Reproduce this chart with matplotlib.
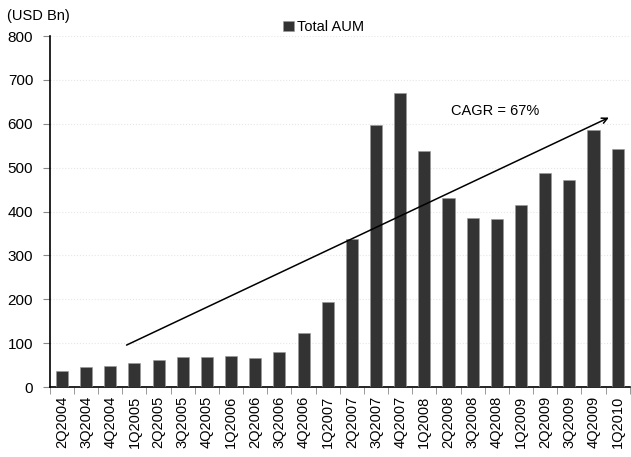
import matplotlib
matplotlib.use("Agg")
import matplotlib.pyplot as plt
import numpy as np

plt.rcParams['font.family'] = ['Liberation Sans', 'DejaVu Sans']

quarters = ["2Q2004", "3Q2004", "4Q2004", "1Q2005", "2Q2005", "3Q2005", "4Q2005",
            "1Q2006", "2Q2006", "3Q2006", "4Q2006", "1Q2007", "2Q2007", "3Q2007",
            "4Q2007", "1Q2008", "2Q2008", "3Q2008", "4Q2008", "1Q2009", "2Q2009",
            "3Q2009", "4Q2009", "1Q2010"]
total_aum = [37, 45, 47, 55, 62, 68, 68, 71, 67, 81, 123, 194, 337, 597,
             671, 539, 432, 385, 383, 416, 487, 473, 585, 543]

fig = plt.figure(figsize=(6.31, 4.57), dpi=100)
ax = fig.add_axes([0.079, 0.153, 0.919, 0.768])

x = np.arange(len(quarters))
ax.bar(x, total_aum, width=0.5, color="#333333", edgecolor="#999999",
       linewidth=0.4, label="Total AUM", zorder=3)

ax.set_xlim(-0.5, len(quarters) - 0.5)
ax.set_ylim(0, 800)
ax.set_yticks(range(0, 801, 100))
ax.set_xticks(x)
ax.set_xticklabels(quarters, rotation=90, fontsize=10.5)
ax.tick_params(axis="x", length=0, pad=6)
ax.set_xticks(np.arange(-0.5, len(quarters), 1), minor=True)
ax.tick_params(axis="x", which="minor", length=5, color="#888888")
ax.tick_params(axis="y", labelsize=11, length=5, pad=7, color="#888888")

ax.grid(axis="y", color="#e6e6e6", linestyle=":", linewidth=0.8, zorder=0)
for s in ["top", "right"]:
    ax.spines[s].set_visible(False)
ax.spines["left"].set_linewidth(1.2)
ax.spines["bottom"].set_linewidth(1.2)

fig.text(0.011, 0.965, "(USD Bn)", fontsize=10.5, ha="left", va="center")

ax.legend(loc="lower center", bbox_to_anchor=(0.472, 0.985), frameon=False,
          fontsize=10.5, handlelength=0.7, handleheight=0.7, handletextpad=0.2,
          borderpad=0)

ax.annotate("", xy=(22.74, 617), xytext=(2.57, 93),
            arrowprops=dict(arrowstyle="->", color="black", lw=1.1), zorder=4)
ax.text(16.1, 629, "CAGR = 67%", fontsize=10.5, ha="left", va="center")

fig.savefig("out.png", dpi=100)
